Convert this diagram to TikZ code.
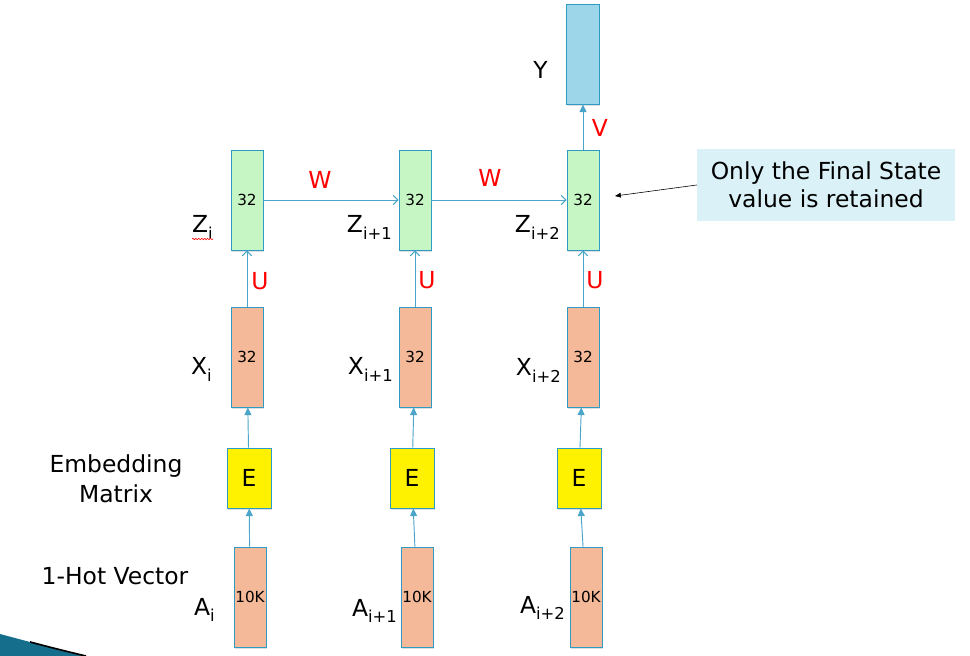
\documentclass[tikz,border=0pt]{standalone}
\usepackage{fontspec}
\setmainfont{DejaVu Sans}
\usetikzlibrary{%
  arrows.meta,
  positioning,
  shadows,
  decorations.pathmorphing
}
\newcommand{\lsub}[1]{\raisebox{-5.5pt}{\fontsize{14}{14}\selectfont #1}}

\begin{document}
\begin{tikzpicture}[x=0.03cm,y=-0.03cm,
  box/.style={draw=\edge,line width=0.8pt,minimum width=0.96cm,minimum height=3cm,
    inner sep=0pt,font=\fontsize{13}{14}\selectfont,
    drop shadow={opacity=0.25,shadow xshift=0.7pt,shadow yshift=-1.3pt}},
  ebox/.style={box,fill=yellow,minimum width=1.32cm,minimum height=1.8cm,
    font=\fontsize{20}{24}\selectfont},
  lbl/.style={inner sep=0pt,font=\fontsize{20}{25.6}\selectfont},
  wt/.style={inner sep=0pt,text=red,font=\fontsize{20}{22}\selectfont},
  flow/.style={draw=\arr,line width=0.8pt,-{Triangle[length=6.5pt,width=6pt]}},
  feed/.style={draw=\arr,line width=0.8pt,-{Straight Barb[length=4pt,width=8pt]}},
  pointer/.style={draw=black,line width=0.5pt,-{Triangle[length=5pt,width=4pt]}}]
  \def\grn{rgb,255:red,198;green,246;blue,196}
  \def\sal{rgb,255:red,244;green,185;blue,152}
  \def\sky{rgb,255:red,157;green,214;blue,232}
  \def\edge{rgb,255:red,45;green,155;blue,195}
  \def\arr{rgb,255:red,75;green,165;blue,200}
  \def\cal{rgb,255:red,218;green,241;blue,248}
  \def\tea{rgb,255:red,20;green,110;blue,140}
  \useasboundingbox (0,0) rectangle (970,656);

  % one column per time step
  \foreach \i/\ax/\ex/\xx in {1/250/249/247, 2/417/412/415, 3/586/579/583} {
    \node[box,fill=\sal] (a\i) at (\ax,597) {10K};
    \node[ebox] (e\i) at (\ex,478) {E};
    \node[box,fill=\sal] (x\i) at (\xx,357) {32};
    \node[box,fill=\grn] (z\i) at (\xx,200) {32};
    \draw[flow] (a\i) -- (e\i);
    \draw[flow] (e\i) -- (x\i);
    \draw[feed] (x\i) -- (z\i);
  }
  \node[box,fill=\sky,minimum width=0.99cm] (yv) at (583,54) {};

  \draw[feed] (z1) -- (z2);
  \draw[feed] (z2) -- (z3);
  \draw[flow] (z3) -- (yv);

  % weights
  \node[wt] (u1) at (260,281) {U};
  \node[wt] (u2) at (427,280) {U};
  \node[wt] (u3) at (595,280) {U};
  \node[wt] (w1) at (320,180) {W};
  \node[wt] (w2) at (490,178) {W};
  \node[wt] (vv) at (600,128) {V};

  % labels
  \node[lbl,anchor=base east] (lz1) at (213,233) {Z\lsub{i}};
  \node[lbl,anchor=base east] (lz2) at (392,233) {Z\lsub{i+1}};
  \node[lbl,anchor=base east] (lz3) at (560,233) {Z\lsub{i+2}};
  \node[lbl,anchor=base east] (lx1) at (212,375) {X\lsub{i}};
  \node[lbl,anchor=base east] (lx2) at (393,375) {X\lsub{i+1}};
  \node[lbl,anchor=base east] (lx3) at (561,376) {X\lsub{i+2}};
  \node[lbl,anchor=base east] (la1) at (215,615) {A\lsub{i}};
  \node[lbl,anchor=base east] (la2) at (397,616) {A\lsub{i+1}};
  \node[lbl,anchor=base east] (la3) at (565,613) {A\lsub{i+2}};
  \node[lbl,anchor=base east] (ly) at (548,79) {Y};
  \node[lbl,align=center] (emb) at (116,479) {Embedding\\Matrix};
  \node[lbl,anchor=base] (hot) at (115,584) {1-Hot Vector};

  \draw[red,line width=0.5pt,decorate,
    decoration={snake,amplitude=0.6pt,segment length=2.5pt}] (192,239) -- (213,239);

  % callout
  \node[lbl,fill=\cal,align=center,minimum width=7.74cm,minimum height=2.16cm,
    font=\fontsize{20}{23.5}\selectfont] (note) at (826,185)
    {Only the Final State\\value is retained};
  \coordinate (tip) at (615,196);
  \draw[pointer] (note.west) -- (tip);

  % corner swoosh
  \fill[fill=\tea] (0,634) .. controls (30,642) and (60,650) .. (86,656) -- (0,656) -- cycle;
  \begin{scope}
    \clip (30,620) rectangle (100,656);
    \draw[black,line width=1.4pt] (0,634) .. controls (30,642) and (60,650) .. (86,656);
  \end{scope}
\end{tikzpicture}
\end{document}
